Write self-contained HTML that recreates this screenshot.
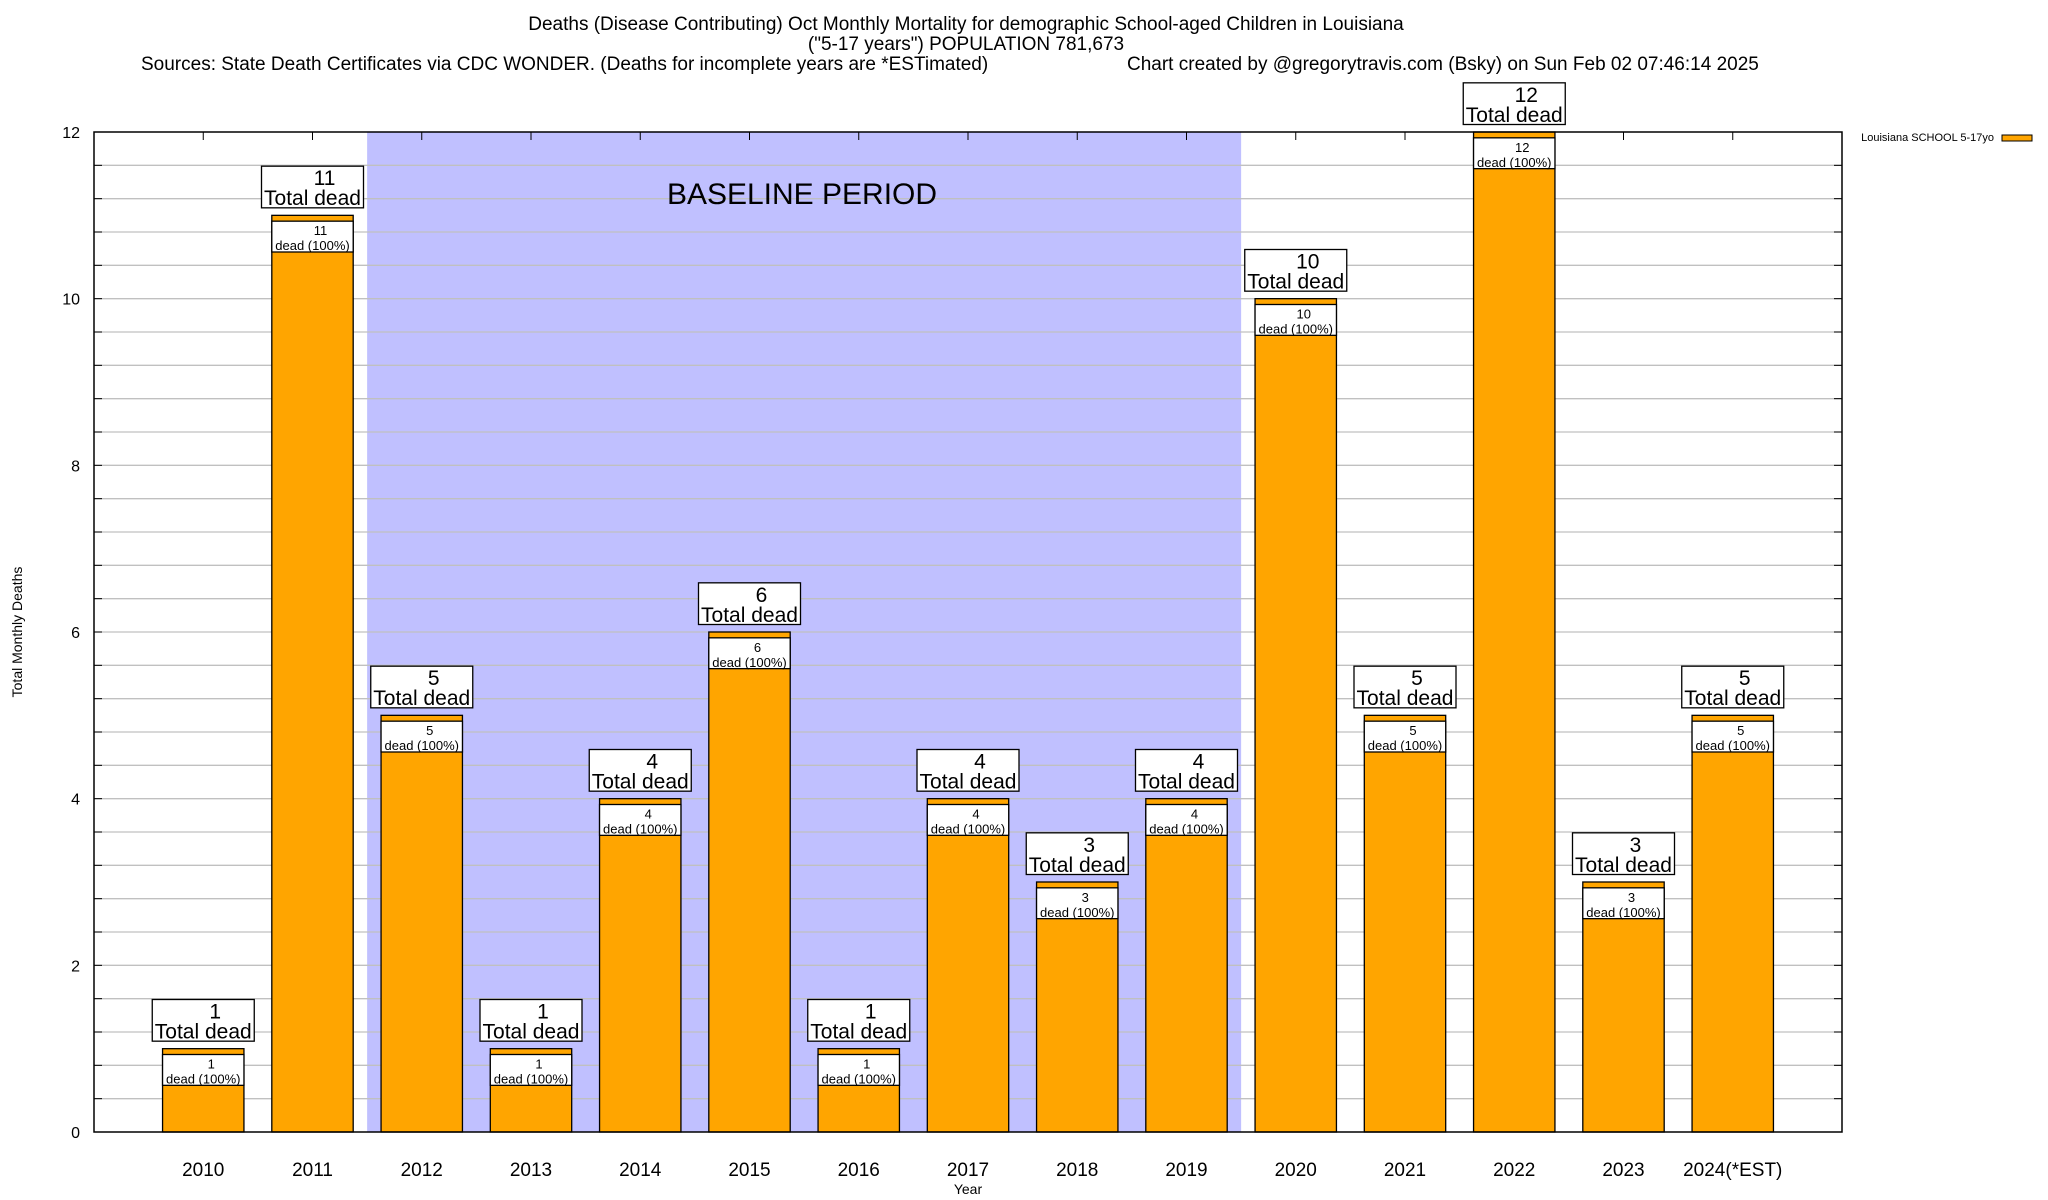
<!DOCTYPE html>
<html><head><meta charset="utf-8">
<style>
html,body{margin:0;padding:0;background:#fff;}
svg{display:block;font-family:"Liberation Sans",sans-serif;}
</style></head>
<body>
<svg id="chart" width="2048" height="1200" viewBox="0 0 2048 1200" xmlns="http://www.w3.org/2000/svg">
<g>
<text x="966" y="30" text-anchor="middle" font-size="19">Deaths (Disease Contributing) Oct Monthly Mortality for demographic School-aged Children in Louisiana</text>
<text x="966" y="50" text-anchor="middle" font-size="19">("5-17 years") POPULATION 781,673</text>
<text x="141" y="70" font-size="19">Sources: State Death Certificates via CDC WONDER. (Deaths for incomplete years are *ESTimated)</text>
<text x="1127" y="70" font-size="19">Chart created by @gregorytravis.com (Bsky) on Sun Feb 02 07:46:14 2025</text>
</g>
<g id="plot"></g>
<text x="22" y="632" transform="rotate(-90 22 632)" text-anchor="middle" font-size="14">Total Monthly Deaths</text>
<text x="968" y="1194" text-anchor="middle" font-size="14">Year</text>
<g>
<text x="1994" y="141" text-anchor="end" font-size="11">Louisiana SCHOOL 5-17yo</text>
<rect x="2002" y="135" width="30" height="6" fill="#ffa500" stroke="#000" stroke-width="1"/>
</g>
</svg>
<script>
const categories = ["2010","2011","2012","2013","2014","2015","2016","2017","2018","2019","2020","2021","2022","2023","2024(*EST)"];
const deaths = [1,11,5,1,4,6,1,4,3,4,10,5,12,3,5];
const yTicks = [0,2,4,6,8,10,12];
const baselineStart = 1.5, baselineEnd = 9.5;

const NS = "http://www.w3.org/2000/svg";
const L=94, R=1842, T=132, B=1132;
const xMin=-1, xMax=15, yMin=0, yMax=12;
const xs = i => L + (i - xMin) / (xMax - xMin) * (R - L);
const ys = v => B - (v - yMin) / (yMax - yMin) * (B - T);
const plot = document.getElementById('plot');
function mk(tag, attrs, parent){ const e=document.createElementNS(NS,tag); for(const k in attrs) e.setAttribute(k,attrs[k]); (parent||plot).appendChild(e); return e; }

const bl = mk('rect',{x:xs(baselineStart),y:T,width:xs(baselineEnd)-xs(baselineStart),height:B-T,fill:'#c0c0ff'});


for(let v=0.4; v<yMax-0.01; v+=0.4){
  const g=mk('line',{x1:L,x2:R,y1:ys(v),y2:ys(v),stroke:'#c0c0c0','stroke-width':1.3});
  
  
  const t1=mk('line',{x1:L,x2:L+8,y1:ys(v),y2:ys(v),stroke:'#000'});
  
  
  const t2=mk('line',{x1:R-8,x2:R,y1:ys(v),y2:ys(v),stroke:'#000'});
  
  
}
const bt = mk('text',{x:802,y:204,'text-anchor':'middle','font-size':30});
bt.textContent='BASELINE PERIOD';



yTicks.forEach(v=>{
  const t=mk('text',{x:80,y:ys(v)+6,'text-anchor':'end','font-size':16});
  t.textContent=v;
  
  
});

const bw = 0.745*(xs(1)-xs(0));
categories.forEach((c,i)=>{
  const v=deaths[i], cx=xs(i);
  const tk1=mk('line',{x1:cx,x2:cx,y1:B,y2:B-8,stroke:'#000'});
  
  
  const tk2=mk('line',{x1:cx,x2:cx,y1:T,y2:T+8,stroke:'#000'});
  
  
  const bar=mk('rect',{x:cx-bw/2,y:ys(v),width:bw,height:B-ys(v),fill:'#ffa500',stroke:'#000','stroke-width':1.3});
  
  
  const ib=mk('rect',{x:cx-bw/2,y:ys(v-0.07),width:bw,height:ys(v-0.44)-ys(v-0.07),fill:'#fff',stroke:'#000','stroke-width':1.3});
  
  
  const n1=mk('text',{x:cx+8,y:ys(v-0.07)+14,'text-anchor':'middle','font-size':13});
  n1.textContent=v;
  
  
  const n2=mk('text',{x:cx,y:ys(v-0.07)+29,'text-anchor':'middle','font-size':13});
  n2.textContent='dead (100%)';
  
  
  const tb=mk('rect',{x:cx-51,y:ys(v+0.59),width:102,height:ys(v+0.09)-ys(v+0.59),fill:'#fff',stroke:'#000','stroke-width':1.3});
  
  
  const t1=mk('text',{x:cx+12,y:ys(v+0.59)+19,'text-anchor':'middle','font-size':21});
  t1.textContent=v;
  
  
  const t2=mk('text',{x:cx,y:ys(v+0.59)+39,'text-anchor':'middle','font-size':21});
  t2.textContent='Total dead';
  
  
  const xl=mk('text',{x:cx,y:1176,'text-anchor':'middle','font-size':19});
  xl.textContent=c;
  
  
});
const fr=mk('rect',{x:L,y:T,width:R-L,height:B-T,fill:'none',stroke:'#000','stroke-width':1.5});


</script>
</body></html>
